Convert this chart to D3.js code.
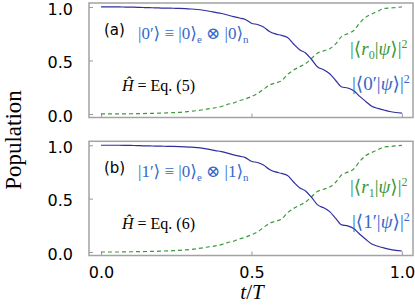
<!DOCTYPE html>
<html>
<head>
<meta charset="utf-8">
<script src="https://cdn.jsdelivr.net/npm/d3@7"></script>
<style>
  body { margin: 0; background: #fff; }
  .tick text { font-family: "DejaVu Sans", sans-serif; font-size: 16px; fill: #000; }
  .tick line { stroke: #999; }
  .domain { display: none; }
  .math { font-family: "Liberation Serif", "DejaVu Serif", serif; }
</style>
</head>
<body>
<div class="chart"></div>
<script>
const W = 415, H = 306;

// DATA ----------------------------------------------
const tValues = [0.00,0.02,0.04,0.06,0.08,0.10,0.12,0.14,0.16,0.18,
  0.20,0.22,0.24,0.26,0.28,0.30,0.32,0.34,0.36,0.38,
  0.40,0.42,0.44,0.46,0.48,0.50,0.52,0.54,0.56,0.58,
  0.60,0.62,0.64,0.66,0.68,0.70,0.72,0.74,0.76,0.78,
  0.80,0.82,0.84,0.86,0.88,0.90,0.92,0.94,0.96,0.98,1.00];

// panel (a)
const popA0 = [1.000,1.000,1.000,1.000,0.999,0.998,0.997,0.995,0.993,0.992,
  0.990,0.989,0.988,0.987,0.985,0.981,0.976,0.969,0.960,0.949,
  0.939,0.925,0.909,0.897,0.883,0.848,0.836,0.813,0.771,0.748,
  0.734,0.715,0.654,0.600,0.570,0.509,0.439,0.413,0.376,0.313,
  0.252,0.243,0.217,0.164,0.117,0.072,0.052,0.037,0.023,0.014,0.008];
const popAr = [0.000,0.000,0.000,0.000,0.001,0.002,0.003,0.004,0.005,0.006,
  0.008,0.010,0.012,0.015,0.020,0.025,0.032,0.040,0.050,0.058,
  0.070,0.090,0.102,0.125,0.140,0.163,0.190,0.230,0.270,0.290,
  0.310,0.370,0.410,0.440,0.470,0.520,0.570,0.590,0.610,0.655,
  0.725,0.750,0.780,0.850,0.905,0.935,0.960,0.985,0.990,0.995,1.000];

// panel (b)
const popB1 = [1.000,1.000,1.000,1.000,0.999,0.998,0.997,0.995,0.994,0.992,
  0.991,0.990,0.989,0.987,0.985,0.982,0.977,0.970,0.961,0.950,
  0.940,0.926,0.910,0.898,0.884,0.850,0.838,0.815,0.773,0.750,
  0.736,0.716,0.656,0.602,0.572,0.511,0.441,0.414,0.378,0.315,
  0.254,0.245,0.219,0.166,0.119,0.074,0.054,0.038,0.024,0.015,0.009];
const popBr = [0.000,0.000,0.000,0.000,0.001,0.002,0.003,0.004,0.005,0.006,
  0.008,0.010,0.012,0.015,0.019,0.024,0.031,0.039,0.049,0.057,
  0.069,0.088,0.100,0.123,0.138,0.161,0.188,0.228,0.268,0.288,
  0.308,0.368,0.408,0.438,0.468,0.518,0.568,0.588,0.608,0.653,
  0.723,0.748,0.778,0.848,0.903,0.933,0.958,0.983,0.988,0.994,0.999];

const yTicks = [0, 0.5, 1.0];
const xTicks = [0, 0.5, 1.0];

const blueLine = '#2f2f9e';
const blueText = '#3569c9';
const green = '#3b993b';
const frameCol = '#a3a3a3';

// CHART INIT ----------------------------------------
const svg = d3.select('.chart').append('svg')
  .attr('width', W)
  .attr('height', H);

const xScale = d3.scaleLinear()
  .domain([-0.04, 1.037])
  .range([89, 413]);

const panels = [
  {top: 3, bottom: 117.5, pop: popA0, res: popAr, label: '(a)', idx: '0', eq: '5'},
  {top: 141.3, bottom: 255.5, pop: popB1, res: popBr, label: '(b)', idx: '1', eq: '6'}
];

panels.forEach(function(p, i) {
  const yScale = d3.scaleLinear()
    .domain([-0.033, 1.037])
    .range([p.bottom, p.top]);

  const g = svg.append('g');

  // ticks
  const yg = g.append('g')
    .attr('transform', `translate(${xScale.range()[0]},0)`)
    .call(d3.axisLeft(yScale).tickValues(yTicks).tickSize(-4).tickPadding(16).tickFormat(d3.format('.1f')));
  yg.selectAll('text').attr('dy', '0.44em');

  const xAxis = d3.axisBottom(xScale).tickValues(xTicks).tickSize(-4).tickPadding(11).tickFormat(d3.format('.1f'));
  const xg = g.append('g')
    .attr('transform', `translate(0,${p.bottom})`)
    .call(xAxis);
  if (i === 0) xg.selectAll('text').remove();

  // frame
  g.append('rect')
    .attr('x', xScale.range()[0])
    .attr('y', p.top)
    .attr('width', xScale.range()[1] - xScale.range()[0])
    .attr('height', p.bottom - p.top)
    .attr('fill', 'none')
    .attr('stroke', frameCol)
    .attr('stroke-width', 1.5);

  const line = d3.line()
    .x((d, j) => xScale(tValues[j]))
    .y(d => yScale(d))
    .curve(d3.curveMonotoneX);

  g.append('path')
    .datum(p.res)
    .attr('d', line)
    .attr('fill', 'none')
    .attr('stroke', green)
    .attr('stroke-width', 1.2)
    .attr('stroke-dasharray', '4,3');

  g.append('path')
    .datum(p.pop)
    .attr('d', line)
    .attr('fill', 'none')
    .attr('stroke', blueLine)
    .attr('stroke-width', 1.2);

  const o = p.top;

  // panel label
  g.append('text')
    .attr('x', 104)
    .attr('y', o + 32)
    .attr('font-family', 'DejaVu Sans, sans-serif')
    .attr('font-size', 15)
    .text(p.label);

  // state definition
  const st = g.append('text')
    .attr('class', 'math')
    .attr('x', 138)
    .attr('y', o + 36)
    .attr('font-size', 17)
    .attr('fill', blueText);
  st.append('tspan').text(`|${p.idx}′⟩ ≡ |0⟩`);
  st.append('tspan').attr('font-size', 11).attr('dy', 4).text('e');
  st.append('tspan').attr('dy', -4).text(` ⊗ |${p.idx}⟩`);
  st.append('tspan').attr('font-size', 11).attr('dy', 4).text('n');

  // hamiltonian
  const hm = g.append('text')
    .attr('class', 'math')
    .attr('x', 122)
    .attr('y', o + 88)
    .attr('font-size', 16);
  hm.append('tspan').attr('font-style', 'italic').text('Ĥ');
  hm.append('tspan').text(` = Eq. (${p.eq})`);

  // green label
  const gl = g.append('text')
    .attr('class', 'math')
    .attr('x', 350)
    .attr('y', o + 52)
    .attr('font-size', 19)
    .attr('fill', green);
  gl.append('tspan').text('|⟨');
  gl.append('tspan').attr('font-style', 'italic').text('r');
  gl.append('tspan').attr('font-size', 12).attr('dy', 4).text(p.idx);
  gl.append('tspan').attr('dy', -4).text('|');
  gl.append('tspan').attr('font-style', 'italic').text('ψ');
  gl.append('tspan').text('⟩|');
  gl.append('tspan').attr('font-size', 12).attr('dy', -7).text('2');

  // blue label
  const bl = g.append('text')
    .attr('class', 'math')
    .attr('x', 352)
    .attr('y', o + 87)
    .attr('font-size', 19)
    .attr('fill', blueText);
  bl.append('tspan').text(`|⟨${p.idx}′|`);
  bl.append('tspan').attr('font-style', 'italic').text('ψ');
  bl.append('tspan').text('⟩|');
  bl.append('tspan').attr('font-size', 12).attr('dy', -7).text('2');
});

// axis titles
svg.append('text')
  .attr('class', 'math')
  .attr('transform', 'translate(21,140) rotate(-90)')
  .attr('text-anchor', 'middle')
  .attr('font-size', 23)
  .text('Population');

const xt = svg.append('text')
  .attr('class', 'math')
  .attr('x', 252)
  .attr('y', 299)
  .attr('text-anchor', 'middle')
  .attr('font-size', 21)
  .attr('font-style', 'italic');
xt.append('tspan').text('t');
xt.append('tspan').attr('font-style', 'normal').text('/');
xt.append('tspan').text('T');
</script>
</body>
</html>
